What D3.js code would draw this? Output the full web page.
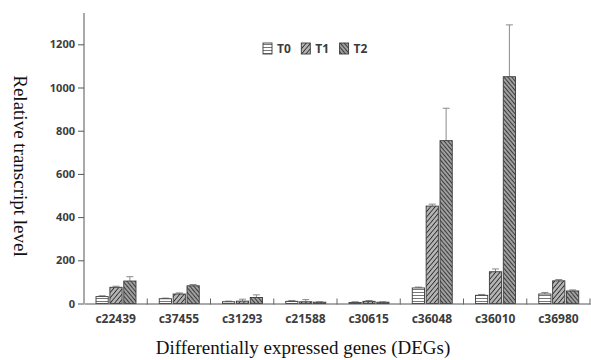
<!DOCTYPE html>
<meta charset="utf-8">
<style>
    html, body { margin: 0; padding: 0; background: #fff; }
    svg { display: block; }
</style>
<body>
<svg width="591" height="360"></svg>
<script src="https://cdn.jsdelivr.net/npm/d3@7"></script>
<script>
    // values
    const genes = ["c22439", "c37455", "c31293", "c21588", "c30615", "c36048", "c36010", "c36980"];
    const series = ["T0", "T1", "T2"];
    const t0 = [32, 22, 8, 10, 5, 72, 38, 44];
    const t1 = [75, 44, 11, 8, 10, 451, 147, 105];
    const t2 = [104, 82, 28, 6, 6, 754, 1050, 58];
    const t0Err = [4, 3, 3, 4, 3, 4, 4, 7];
    const t1Err = [5, 5, 9, 10, 4, 9, 13, 6];
    const t2Err = [20, 6, 12, 2, 2, 150, 240, 5];
    const yTicks = [0, 200, 400, 600, 800, 1000, 1200];

    const svg = d3.select("svg");
    const mLeft = 84, mRight = 590, mTop = 13, mBottom = 303.5;

    const x = d3.scaleBand().domain(genes).range([mLeft, mRight]);
    const inner = d3.scaleBand().domain(series).range([12, 52]).paddingInner(0.12);
    const y = d3.scaleLinear().domain([0, 1345]).range([mBottom, mTop]);

    // fill patterns
    const defs = svg.append("defs");
    const p0 = defs.append("pattern").attr("id", "pT0").attr("patternUnits", "userSpaceOnUse")
        .attr("width", 4).attr("height", 3);
    p0.append("rect").attr("width", 4).attr("height", 3).attr("fill", "#fff");
    p0.append("line").attr("x1", 0).attr("x2", 4).attr("y1", 1.5).attr("y2", 1.5)
        .attr("stroke", "#777").attr("stroke-width", 1);

    function hatch(id, angle, bg, gap) {
        const p = defs.append("pattern").attr("id", id).attr("patternUnits", "userSpaceOnUse")
            .attr("width", gap).attr("height", gap).attr("patternTransform", `rotate(${angle})`);
        p.append("rect").attr("width", gap).attr("height", gap).attr("fill", bg);
        p.append("line").attr("x1", 0).attr("x2", 0).attr("y1", 0).attr("y2", gap)
            .attr("stroke", "#222").attr("stroke-width", 1.6);
    }
    hatch("pT1", 40, "#b4b4b4", 3.4);
    hatch("pT2", -40, "#a0a0a0", 3);

    const fills = { T0: "url(#pT0)", T1: "url(#pT1)", T2: "url(#pT2)" };
    const vals = { T0: t0, T1: t1, T2: t2 };
    const errs = { T0: t0Err, T1: t1Err, T2: t2Err };

    const rows = [];
    genes.forEach((g, i) => {
        series.forEach(s => rows.push({ gene: g, s: s, v: vals[s][i], e: errs[s][i] }));
    });

    // error bars (drawn behind bars)
    const eb = svg.append("g").attr("stroke", "#8a8a8a").attr("stroke-width", 1);
    rows.forEach(d => {
        const cx = x(d.gene) + inner(d.s) + inner.bandwidth() / 2;
        eb.append("line").attr("x1", cx).attr("x2", cx).attr("y1", y(d.v)).attr("y2", y(d.v + d.e));
        eb.append("line").attr("x1", cx - 3.5).attr("x2", cx + 3.5).attr("y1", y(d.v + d.e)).attr("y2", y(d.v + d.e));
    });

    svg.append("g").selectAll("rect").data(rows).join("rect")
        .attr("x", d => x(d.gene) + inner(d.s))
        .attr("width", inner.bandwidth())
        .attr("y", d => y(d.v))
        .attr("height", d => y(0) - y(d.v))
        .attr("fill", d => fills[d.s])
        .attr("stroke", "#3a3a3a")
        .attr("stroke-width", 0.9);

    // y axis
    const ya = svg.append("g").attr("transform", `translate(${mLeft},0)`)
        .call(d3.axisLeft(y).tickValues(yTicks).tickFormat(d3.format("d")).tickSize(6).tickSizeOuter(0));
    ya.select(".domain").attr("stroke", "#555").attr("d", `M0,${mTop}V${mBottom}`);
    ya.selectAll(".tick line").attr("stroke", "#555");
    ya.selectAll(".tick text").attr("x", -9).attr("fill", "#3c3c3c")
        .style("font", "bold 11px 'Noto Sans'");

    // x axis
    const xa = svg.append("g").attr("transform", `translate(0,${mBottom})`)
        .call(d3.axisBottom(x).tickSize(0).tickPadding(11));
    xa.select(".domain").attr("stroke", "#555");
    xa.selectAll(".tick text").attr("fill", "#3c3c3c").style("font", "bold 12px 'Noto Sans'");
    const bounds = genes.slice(1).map(g => x(g)).concat([mRight]);
    svg.append("g").selectAll("line").data(bounds).join("line")
        .attr("x1", d => d).attr("x2", d => d)
        .attr("y1", mBottom - 5).attr("y2", mBottom + 1)
        .attr("stroke", "#666");

    // legend
    const leg = svg.append("g").attr("transform", "translate(263,43)");
    series.forEach((s, i) => {
        const g = leg.append("g").attr("transform", `translate(${i * 38.3},0)`);
        g.append("rect").attr("width", 9).attr("height", 11).attr("fill", fills[s])
            .attr("stroke", "#3a3a3a").attr("stroke-width", 0.9);
        g.append("text").attr("x", 14).attr("y", 10).text(s)
            .attr("fill", "#3c3c3c").style("font", "bold 12px 'Noto Sans'");
    });

    // axis titles
    svg.append("text").attr("transform", "translate(14,166) rotate(90)")
        .attr("text-anchor", "middle").attr("fill", "#111")
        .style("font", "19px 'Liberation Serif'")
        .text("Relative transcript level");
    svg.append("text").attr("x", 303).attr("y", 354)
        .attr("text-anchor", "middle").attr("fill", "#111")
        .style("font", "19px 'Liberation Serif'")
        .text("Differentially expressed genes (DEGs)");
</script>
</body>
